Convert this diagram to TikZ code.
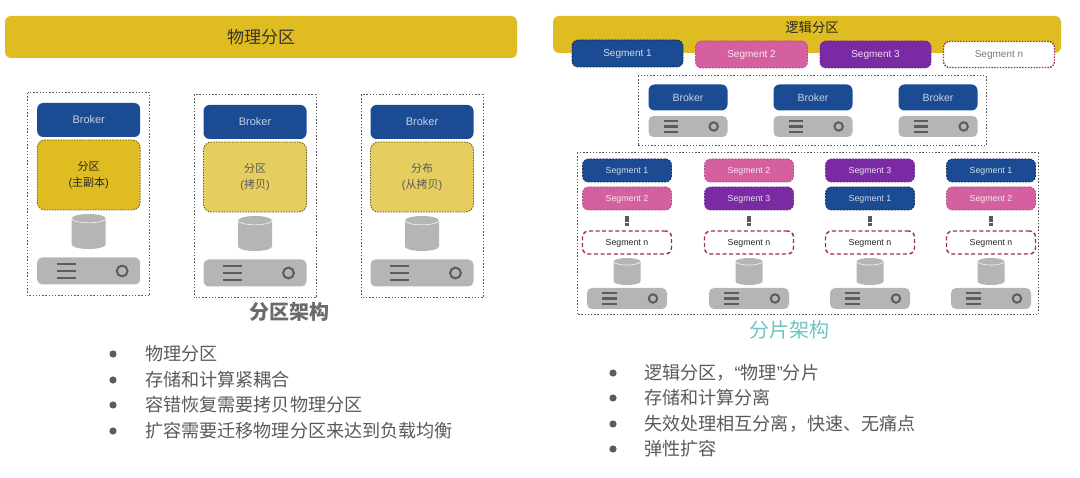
\documentclass[tikz,border=0pt]{standalone}
\usepackage{fontspec}
\setmainfont{Liberation Sans}
\newfontfamily\cjk{Noto Sans CJK SC}
\usepackage{tikz}
\usetikzlibrary{calc}
\definecolor{barYellow}{HTML}{DFBD22}
\definecolor{paleYellow}{HTML}{E5CE5F}
\definecolor{brokerBlue}{HTML}{1B4B93}
\definecolor{segPink}{HTML}{D5609F}
\definecolor{segPurple}{HTML}{7A2BA3}
\definecolor{machineGray}{HTML}{B5B5B5}
\definecolor{iconGray}{HTML}{5C5C5C}
\definecolor{textGray}{HTML}{5A5A5A}
\definecolor{titleTeal}{HTML}{6CC4C0}
\definecolor{dashRed}{HTML}{9C2F55}
\tikzset{
    bar/.style={fill=barYellow, rounded corners=6pt, minimum height=42pt, inner sep=0pt},
    frame/.style={draw=black!65, dash pattern=on 1.4pt off 1.8pt, line width=1pt},
    seg/.style={rounded corners=6pt, inner sep=0pt, text depth=0pt, line width=0.8pt, dash pattern=on 2pt off 1.2pt, font=\fontsize{10}{12}\selectfont},
    blueseg/.style={seg, fill=brokerBlue, text=white!80!brokerBlue, draw=black!40!brokerBlue},
    pinkseg/.style={seg, fill=segPink, text=white!85!segPink, draw=black!20!segPink},
    purpleseg/.style={seg, fill=segPurple, text=white!85!segPurple, draw=black!10!segPurple},
    whiteseg/.style={seg, fill=white, text=black!85, draw=dashRed, dash pattern=on 4pt off 2.6pt, line width=1.4pt},
    broker/.style={rounded corners=6pt, fill=brokerBlue, text=white!75!brokerBlue, inner sep=0pt},
    part/.style={rounded corners=8pt, draw=black!50!barYellow, dash pattern=on 1.5pt off 1.2pt, line width=0.9pt, inner sep=0pt, align=center, font=\cjk\fontsize{11}{16}\selectfont}
}
% machine box: centre x, centre y, width, height
\newcommand{\machine}[4]{
    \fill[machineGray, rounded corners=5pt] ({#1-#3/2},{#2-#4/2}) rectangle ({#1+#3/2},{#2+#4/2});
    \foreach \d in {-0.26,0,0.26}
        \draw[iconGray, line width=2.5pt] ({#1-#3*0.31},{#2+#4*\d}) -- ({#1-#3*0.125},{#2+#4*\d});
    \draw[iconGray, line width=2pt] ({#1+#3*0.325},{#2}) circle ({#4*0.2});
}
% disk drum: centre x, top y, width, height
\newcommand{\drum}[4]{
    \fill[machineGray] ({#1-#3/2},{#2+#3*0.13}) -- ({#1-#3/2},{#2+#4-#3*0.13})
        arc[start angle=180, end angle=0, x radius=#3/2, y radius=#3*0.13]
        -- ({#1+#3/2},{#2+#3*0.13}) -- cycle;
    \fill[machineGray] ({#1},{#2+#3*0.13}) ellipse [x radius=#3/2, y radius=#3*0.13];
    \draw[white!85!machineGray, line width=0.6pt] ({#1-#3/2},{#2+#3*0.13})
        arc[start angle=180, end angle=0, x radius=#3/2, y radius=#3*0.13];
}
\begin{document}
\begin{tikzpicture}[x=1pt, y=-1pt]
    \useasboundingbox (0,0) rectangle (1080,478);

    % Left banner
    \node[bar, minimum width=512pt, font=\cjk\fontsize{17}{20}\selectfont, text=black!80] (physbar) at (261,37) {物理分区};

    % Broker columns on the left
    \foreach \n/\cx/\top/\fillc/\lab/\shade in {a/88.7/93/barYellow/{分区\\{\rmfamily(}主副本{\rmfamily)}}/85, b/255/95/paleYellow/{分区\\{\rmfamily(}拷贝{\rmfamily)}}/65, c/422/95/paleYellow/{分布\\{\rmfamily(}从拷贝{\rmfamily)}}/65} {
        \draw[frame] ({\cx-61},\top) rectangle ({\cx+61},{\top+203});
        \node[broker, minimum width=103pt, minimum height=34pt, font=\fontsize{11}{13}\selectfont] (brk\n) at (\cx,{\top+27}) {Broker};
        \node[part, fill=\fillc, minimum width=103pt, minimum height=70pt, text=black!\shade] (part\n) at (\cx,{\top+82}) {\lab};
        \drum{\cx}{\top+121}{34}{35}
        \machine{\cx}{\top+178}{103}{27}
    }
    \node[font=\cjk\bfseries\fontsize{20}{22}\selectfont, text=textGray!90] (physname) at (289.5,312) {分区架构};

    % Left bullets
    \foreach \t/\y in {物理分区/354, 存储和计算紧耦合/380, 容错恢复需要拷贝物理分区/405, 扩容需要迁移物理分区来达到负载均衡/431} {
        \fill[iconGray] (113,\y) circle (3.6pt);
        \node[anchor=west, inner sep=0pt, font=\cjk\fontsize{18.1}{20}\selectfont, text=textGray] at (145,\y) {\t};
    }

    % Right banner with the segments on it
    \fill[barYellow, rounded corners=6pt] (553,16) rectangle (1061,53);
    \node[font=\cjk\fontsize{13.3}{15}\selectfont, text=black!85] (logbar) at (812,27) {逻辑分区};
    \node[blueseg, minimum width=111pt, minimum height=27pt] (top1) at (627.5,53.5) {Segment 1};
    \node[pinkseg, minimum width=112pt, minimum height=27pt] (top2) at (751.5,54.5) {Segment 2};
    \node[purpleseg, minimum width=111pt, minimum height=27pt] (top3) at (875.5,54.5) {Segment 3};
    \node[whiteseg, text=textGray!80, minimum width=111pt, minimum height=26pt, dash pattern=on 1.5pt off 1.3pt] (topn) at (999,54.5) {Segment n};

    % Brokers in the middle
    \draw[frame] (638,76) rectangle (986,146);
    \foreach \n/\cx in {a/688, b/813, c/938} {
        \node[broker, minimum width=79pt, minimum height=26pt, font=\fontsize{10.5}{12}\selectfont] (mid\n) at (\cx,97.5) {Broker};
        \machine{\cx}{126.5}{79}{21}
    }

    % Storage columns
    \draw[frame] (577,153) rectangle (1038,315);
    \foreach \cx/\sa/\la/\sb/\lb/\n in {627/blueseg/1/pinkseg/2/a, 749/pinkseg/2/purpleseg/3/b, 870/purpleseg/3/blueseg/1/c, 991/blueseg/1/pinkseg/2/d} {
        \node[\sa, minimum width=89pt, minimum height=23pt, font=\fontsize{8.8}{10}\selectfont] (up\n) at (\cx,170.5) {Segment \la};
        \node[\sb, minimum width=89pt, minimum height=23pt, font=\fontsize{8.8}{10}\selectfont] (lo\n) at (\cx,198.5) {Segment \lb};
        \fill[black!65] ({\cx-2},216.5) rectangle ({\cx+2},222.5);
        \fill[black!65] ({\cx-2},223.5) rectangle ({\cx+2},226.5);
        \node[whiteseg, minimum width=89pt, minimum height=23pt, font=\fontsize{8.8}{10}\selectfont] (end\n) at (\cx,242.5) {Segment n};
        \drum{\cx}{258}{27}{27}
        \machine{\cx}{298.5}{80}{21}
    }
    \node[font=\cjk\fontsize{20}{22}\selectfont, text=titleTeal] (logname) at (789,330) {分片架构};

    % Right bullets
    \foreach \t/\y in {逻辑分区，{\rmfamily “}物理{\rmfamily ”}分片/373, 存储和计算分离/398, 失效处理相互分离，快速、无痛点/424, 弹性扩容/449} {
        \fill[iconGray] (613,\y) circle (3.6pt);
        \node[anchor=west, inner sep=0pt, font=\cjk\fontsize{18.1}{20}\selectfont, text=textGray] at (644,\y) {\t};
    }
\end{tikzpicture}
\end{document}
